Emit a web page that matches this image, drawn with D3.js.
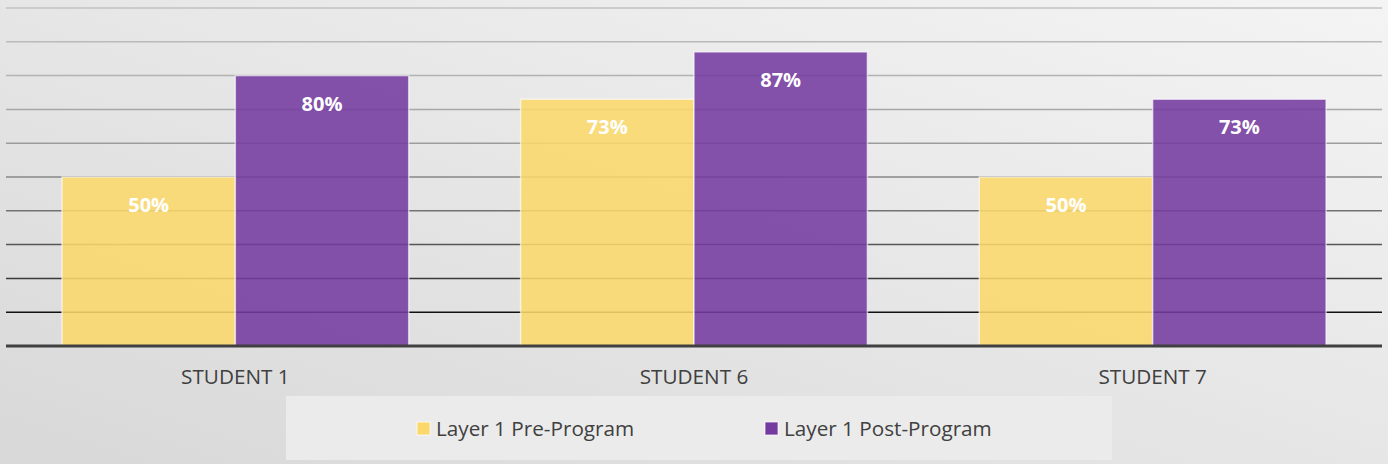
<!DOCTYPE html>
<html><head><meta charset="utf-8">
<script src="https://cdnjs.cloudflare.com/ajax/libs/d3/7.8.5/d3.min.js"></script>
<style>html,body{margin:0;padding:0;overflow:hidden;}</style>
</head><body>
<svg id="c" width="1388" height="464"></svg>
<script>
const categories = ["STUDENT 1", "STUDENT 6", "STUDENT 7"];
const seriesNames = ["Layer 1 Pre-Program", "Layer 1 Post-Program"];
const preValues = [0.50, 0.73, 0.50];
const postValues = [0.80, 0.87, 0.73];
const gridTicks = [0.1, 0.2, 0.3, 0.4, 0.5, 0.6, 0.7, 0.8, 0.9, 1.0];
const colors = ["#fbd86c", "#743aa0"];

(function(){
const svg = d3.select("#c");
const W = 1388, H = 464;
const defs = svg.append("defs");
const bg = defs.append("linearGradient").attr("id","bg").attr("x1","0").attr("y1","1").attr("x2","1").attr("y2","0");
bg.append("stop").attr("offset","0").attr("stop-color","#d8d8d8");
bg.append("stop").attr("offset","1").attr("stop-color","#f4f4f4");
svg.append("rect").attr("width",W).attr("height",H).attr("fill","url(#bg)");

const pLeft = 6, pRight = 1382, pTop = 8, pBottom = 346;
const x0 = d3.scaleBand().domain(categories).range([pLeft, pRight]).paddingInner(0.244).paddingOuter(0.122);
const x1 = d3.scaleBand().domain(seriesNames).range([0, x0.bandwidth()]).padding(0);
const y = d3.scaleLinear().domain([0, 1]).range([pBottom, pTop]);

const gcol = d3.scaleLinear().domain([1.0, 0.8, 0.6, 0.4, 0.2, 0.1])
  .range(["#c2c2c2", "#b2b2b2", "#9c9c9c", "#727272", "#3a3a3a", "#111111"]);
svg.append("g").selectAll("line").data(gridTicks).join("line")
  .attr("x1", pLeft).attr("x2", pRight)
  .attr("y1", d => y(d)).attr("y2", d => y(d))
  .attr("stroke", d => gcol(d)).attr("stroke-width", 1.5);

const data = categories.map((c, i) => ({cat: c, vals: [preValues[i], postValues[i]]}));
const g = svg.append("g").selectAll("g").data(data).join("g")
  .attr("transform", d => `translate(${x0(d.cat)},0)`);
const bars = g.selectAll("g.bar").data(d => d.vals.map((v, j) => ({v, s: seriesNames[j], j}))).join("g").attr("class","bar");
bars.append("rect")
  .attr("x", d => x1(d.s)).attr("width", x1.bandwidth())
  .attr("y", d => y(d.v)).attr("height", d => y(0) - y(d.v))
  .attr("fill", d => colors[d.j]).attr("fill-opacity", 0.88)
  .attr("stroke", "#ffffff").attr("stroke-opacity", 0.6).attr("stroke-width", 1.5);
bars.append("text")
  .attr("x", d => x1(d.s) + x1.bandwidth() / 2)
  .attr("y", d => y(d.v) + 35)
  .attr("text-anchor", "middle")
  .attr("font-family", "'Open Sans', sans-serif").attr("font-weight", "bold").attr("font-size", 20)
  .attr("fill", "#ffffff")
  .text(d => d3.format(".0%")(d.v));

svg.append("line").attr("x1", pLeft).attr("x2", pRight).attr("y1", pBottom).attr("y2", pBottom)
  .attr("stroke", "#404040").attr("stroke-width", 3);

svg.append("g").selectAll("text").data(categories).join("text")
  .attr("x", d => x0(d) + x0.bandwidth() / 2).attr("y", 383.5)
  .attr("text-anchor", "middle")
  .attr("font-family", "'Open Sans', sans-serif").attr("font-size", 20.7)
  .attr("fill", "#404040").text(d => d);

svg.append("rect").attr("x", 286).attr("y", 396).attr("width", 826).attr("height", 64).attr("fill", "#ebebeb");
const lx = [417, 765];
const lg = svg.append("g").selectAll("g").data(seriesNames).join("g")
  .attr("transform", (d, i) => `translate(${lx[i]},422)`);
lg.append("rect").attr("width", 13).attr("height", 13).attr("fill", (d, i) => colors[i])
  .attr("stroke", "#ffffff").attr("stroke-opacity", 0.7);
lg.append("text").attr("x", 19).attr("y", 14)
  .attr("font-family", "'Open Sans', sans-serif").attr("font-size", 20.7)
  .attr("fill", "#404040").text(d => d);
})();
</script>
</body></html>
